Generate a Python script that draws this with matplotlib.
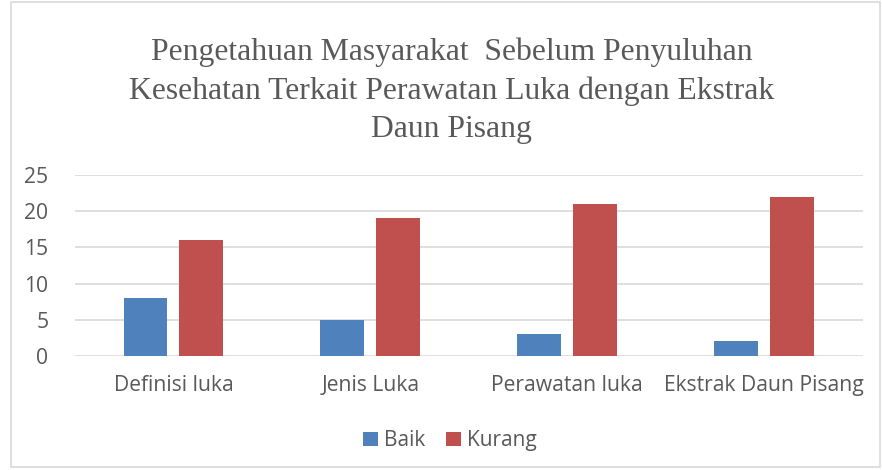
import numpy as np
import matplotlib.pyplot as plt
from matplotlib.patches import Rectangle

# data
categories = ["Definisi luka", "Jenis Luka", "Perawatan luka", "Ekstrak Daun Pisang"]
baik = [8, 5, 3, 2]
kurang = [16, 19, 21, 22]
yticks = [0, 5, 10, 15, 20, 25]

title = ("Pengetahuan Masyarakat  Sebelum Penyuluhan\n"
         "Kesehatan Terkait Perawatan Luka dengan Ekstrak\n"
         "Daun Pisang")

blue = "#4F81BD"
red = "#C0504D"
grey = "#595959"

fig = plt.figure(figsize=(8.82, 4.70), dpi=100)
ax = fig.add_axes([0.085, 0.2426, 0.893, 0.3851])

x = np.arange(len(categories))
w = 0.223
ax.bar(x - 0.142, baik, w, color=blue, label="Baik", zorder=3)
ax.bar(x + 0.142, kurang, w, color=red, label="Kurang", zorder=3)

ax.set_xlim(-0.5, len(categories) - 0.5)
ax.set_ylim(0, 25)
ax.set_yticks(yticks)
ax.yaxis.grid(True, color="#d9d9d9", linewidth=1.2, zorder=0)
ax.set_axisbelow(True)
for s in ax.spines.values():
    s.set_visible(False)
ax.tick_params(length=0, colors=grey, labelsize=15.2)
ax.set_xticks(x)
ax.set_xticklabels(categories)
for lab in ax.get_xticklabels() + ax.get_yticklabels():
    lab.set_fontfamily("Open Sans")
    lab.set_color(grey)
ax.tick_params(axis="x", pad=14)
ax.tick_params(axis="y", pad=19)

fig.text(0.512, 0.92, title, ha="center", va="top", fontsize=22.8,
         family="Liberation Serif", color=grey, linespacing=1.42)

leg = fig.legend(loc="center", bbox_to_anchor=(0.51, 0.062), ncol=2, frameon=False,
                 prop={"family": "Open Sans", "size": 15}, handlelength=0.7,
                 handleheight=0.7, handletextpad=0.3, columnspacing=1.0)
for t in leg.get_texts():
    t.set_color(grey)

# chart border
fig.patches.append(Rectangle((0.012, 0.006), 0.986, 0.99, transform=fig.transFigure,
                             fill=False, edgecolor="#d9d9d9", linewidth=1.2))

fig.savefig("out.png", dpi=100)
